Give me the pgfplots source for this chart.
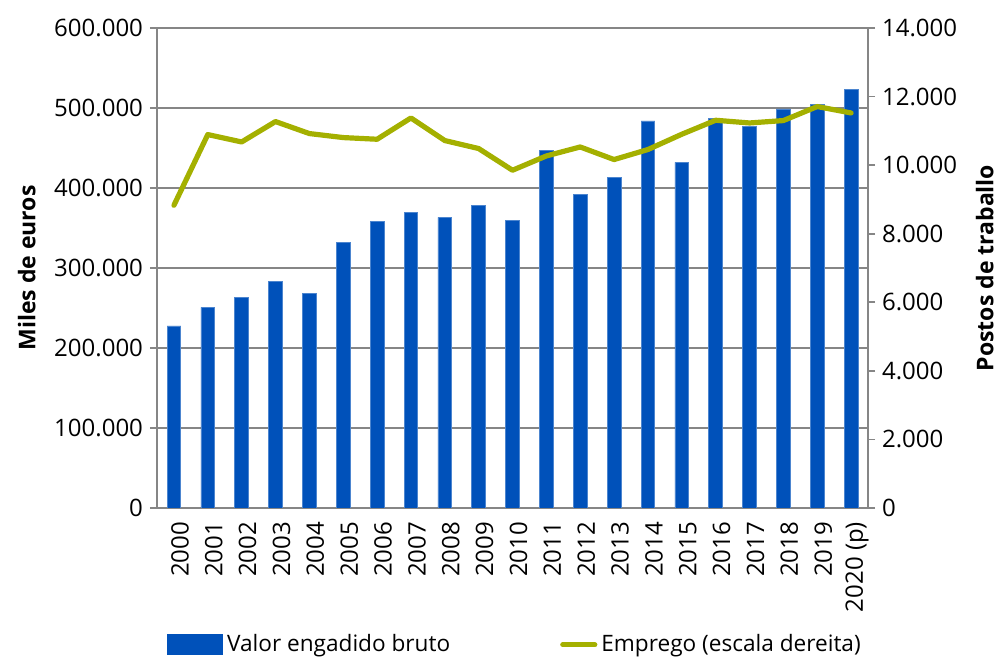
\documentclass[border=0pt]{standalone}
\usepackage{pgfplots}
\pgfplotsset{compat=1.18}
\usepackage{fontspec}
\setmainfont{Open Sans}
\definecolor{barblue}{RGB}{0,81,186}
\definecolor{linegreen}{RGB}{164,176,0}
\definecolor{axgray}{RGB}{134,134,134}

\pgfplotsset{
  common/.style={
    scale only axis, width=355.5pt, height=240pt,
    xmin=-0.5, xmax=20.5,
    font=\fontsize{12}{14}\selectfont,
    /pgf/number format/assume math mode=true,
    /pgf/number format/.cd, fixed, precision=0, 1000 sep={.},
    /pgfplots/.cd,
    axis line style={axgray, line width=0.9pt},
    tick style={axgray, line width=0.9pt},
    tick align=outside,
    major tick length=3.5pt,
    scaled y ticks=false,
    ylabel style={font=\fontsize{11.5}{13}\selectfont\bfseries},
  }
}

\begin{document}
\begin{tikzpicture}
\begin{axis}[common, name=ax1,
    axis x line*=bottom, axis y line*=left,
    ymin=0, ymax=600000, ytick={0,100000,...,600000},
    ymajorgrids, grid style={axgray, line width=0.8pt},
    xtick={0,...,20},
    xticklabels={2000,2001,2002,2003,2004,2005,2006,2007,2008,2009,2010,
                 2011,2012,2013,2014,2015,2016,2017,2018,2019,2020 (p)},
    xticklabel style={rotate=90, anchor=east, yshift=-3pt},
    x tick style={draw=none},
    extra x ticks={-0.5,0.5,...,20.5}, extra x tick labels={},
    extra x tick style={tick style={axgray, line width=0.9pt}, major tick length=3.5pt, grid=none},
    ylabel={Miles de euros},
    ylabel style={yshift=2.5pt},
    ybar, bar width=6.85pt,
]
\addplot[fill=barblue, draw=barblue!70!white, line width=0.3pt] coordinates {
 (0,227500) (1,250900) (2,263000) (3,283000) (4,268000) (5,332100)
 (6,358000) (7,369600) (8,363400) (9,378000) (10,359200) (11,447100)
 (12,392100) (13,413400) (14,483800) (15,432100) (16,487000) (17,477100)
 (18,498800) (19,504000) (20,523400)
};
\end{axis}
\begin{axis}[common,
    axis x line=none, axis y line*=right,
    ymin=0, ymax=14000, ytick={0,2000,...,14000},
    ylabel={Postos de traballo},
    ylabel style={yshift=-2.5pt},
    legend columns=2,
    legend style={draw=none, fill=none, at={(0.505,-0.285)}, anchor=center,
      font=\fontsize{11.3}{13}\selectfont,
      /tikz/every even column/.append style={column sep=53pt}},
]
\addlegendimage{legend image code/.code={\fill[barblue] (-2pt,-5pt) rectangle (25.5pt,5pt);}}
\addlegendentry{Valor engadido bruto}
\addplot[linegreen, line width=2.6pt, line join=round, line cap=round,
  legend image code/.code={\draw[linegreen, line width=2.6pt, line cap=round] (0pt,0pt) -- (16pt,0pt);}]
  coordinates {
 (0,8829) (1,10892) (2,10676) (3,11271) (4,10921) (5,10804) (6,10755)
 (7,11376) (8,10717) (9,10484) (10,9851) (11,10268) (12,10530) (13,10163)
 (14,10455) (15,10901) (16,11309) (17,11230) (18,11300) (19,11709) (20,11522)
};
\addlegendentry{Emprego (escala dereita)}
\end{axis}
\pgfresetboundingbox
\path ([shift={(-78.5pt,-77.5pt)}]ax1.south west) rectangle ([shift={(420pt,254pt)}]ax1.south west);
\end{tikzpicture}
\end{document}
